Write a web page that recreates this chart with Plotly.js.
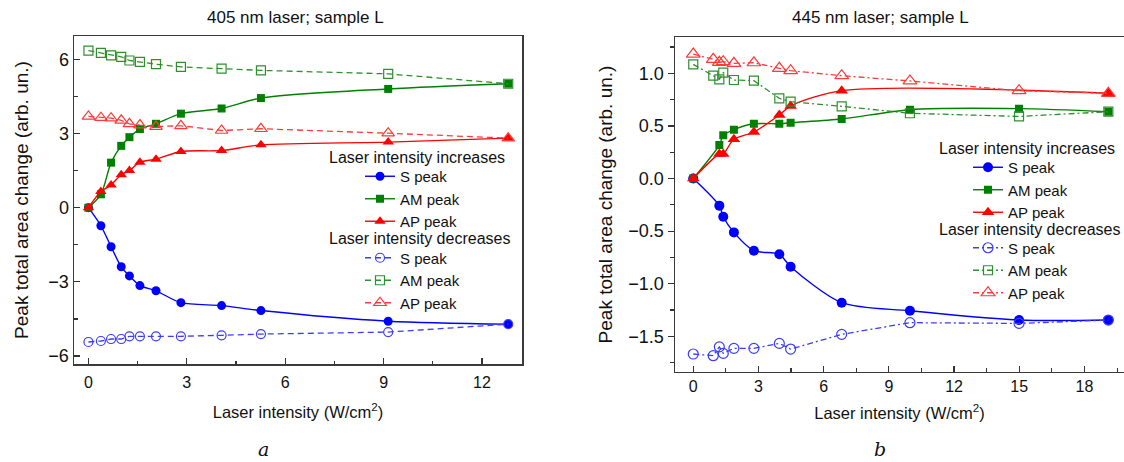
<!DOCTYPE html>
<html><head><meta charset="utf-8">
<script src="https://cdn.plot.ly/plotly-3.0.1.min.js"></script>
<style>html,body{margin:0;padding:0;background:#fff}#chart{width:1124px;height:462px}</style>
</head><body><div id="chart"></div>
<script>
// ---- Panel a: 405 nm laser ----
const xA = [0, 0.38, 0.69, 1.0, 1.25, 1.57, 2.06, 2.82, 4.06, 5.26, 9.14, 12.8];
const sA_inc = [0, -0.73, -1.58, -2.39, -2.76, -3.15, -3.36, -3.84, -3.96, -4.16, -4.59, -4.71];
const amA_inc = [0, 0.54, 1.82, 2.5, 2.85, 3.18, 3.39, 3.8, 4.01, 4.43, 4.8, 5.01];
const apA_inc = [0, 0.65, 0.92, 1.33, 1.5, 1.84, 1.96, 2.27, 2.31, 2.54, 2.65, 2.81];
const sA_dec = [-5.43, -5.39, -5.31, -5.31, -5.2, -5.2, -5.2, -5.2, -5.16, -5.11, -5.03, -4.71];
const amA_dec = [6.35, 6.26, 6.16, 6.1, 5.95, 5.89, 5.8, 5.69, 5.62, 5.55, 5.41, 5.01];
const apA_dec = [3.69, 3.64, 3.62, 3.53, 3.39, 3.34, 3.28, 3.31, 3.12, 3.19, 3.01, 2.81];

// ---- Panel b: 445 nm laser ----
const xB_inc = [0, 1.2, 1.38, 1.87, 2.79, 3.96, 4.48, 6.83, 9.97, 14.99, 19.1];
const sB_inc = [0, -0.258, -0.363, -0.512, -0.686, -0.72, -0.838, -1.18, -1.257, -1.345, -1.345];
const amB_inc = [0, 0.318, 0.41, 0.464, 0.52, 0.52, 0.53, 0.566, 0.654, 0.664, 0.635];
const xB_apinc = [0, 1.2, 1.38, 1.87, 2.79, 3.96, 4.48, 6.83, 19.1];
const apB_inc = [0, 0.233, 0.233, 0.373, 0.442, 0.604, 0.689, 0.835, 0.81];
const xB_dec = [0, 0.92, 1.2, 1.38, 1.87, 2.79, 3.96, 4.48, 6.83, 9.97, 14.99, 19.1];
const sB_dec = [-1.668, -1.684, -1.6, -1.662, -1.614, -1.614, -1.567, -1.621, -1.481, -1.37, -1.377, -1.345];
const amB_dec = [1.085, 0.977, 0.943, 1.006, 0.936, 0.93, 0.762, 0.73, 0.686, 0.62, 0.59, 0.635];
const apB_dec = [1.183, 1.133, 1.104, 1.11, 1.095, 1.10, 1.047, 1.025, 0.977, 0.927, 0.835, 0.81];

const names = ["S peak", "AM peak", "AP peak"];
const titles = ["405 nm laser; sample L", "445 nm laser; sample L"];
const headers = ["Laser intensity increases", "Laser intensity decreases"];
const xTitle = "Laser intensity (W/cm<sup>2</sup>)";
const yTitle = "Peak total area change (arb. un.)";

const BLUE = "#0000ff", GREEN = "#008000", RED = "#ff0000";
const BLUE_L = "#3c3cff", GREEN_L = "#2f8f2f", RED_L = "#ff3a3a";
const SANS = "Liberation Sans, Arial, sans-serif";
const W = 1124, H = 462;
const fx = v => v / W, fy = v => 1 - v / H;

function inc(x, y, name, color, sym, size, xa, ya, leg) {
  return {x, y, name, xaxis: xa, yaxis: ya, legend: leg, legendgroup: leg + "inc",
    type: "scatter", mode: "lines+markers",
    line: {color, width: 1.4, shape: "spline", smoothing: 0.8},
    marker: {color, symbol: sym, size, line: {width: 0}}};
}
function dec(x, y, name, color, sym, size, xa, ya, leg, dash) {
  return {x, y, name, xaxis: xa, yaxis: ya, legend: leg, legendgroup: leg + "dec",
    type: "scatter", mode: "lines+markers",
    line: {color, width: 1.3, dash},
    marker: {color, symbol: sym, size, line: {width: 1.2, color}}};
}
const dashA = "6px,4px", dashB = "6px,3px,2px,3px";
const data = [
  inc(xA, sA_inc, names[0], BLUE, "circle", 9, "x", "y", "legend"),
  inc(xA, amA_inc, names[1], GREEN, "square", 8, "x", "y", "legend"),
  inc(xA, apA_inc, names[2], RED, "triangle-up", 10, "x", "y", "legend"),
  dec(xA, sA_dec, names[0], BLUE_L, "circle-open", 9, "x", "y", "legend", dashA),
  dec(xA, amA_dec, names[1], GREEN_L, "square-open", 9, "x", "y", "legend", dashA),
  dec(xA, apA_dec, names[2], RED_L, "triangle-up-open", 11, "x", "y", "legend", dashA),
  inc(xB_inc, sB_inc, names[0], BLUE, "circle", 10, "x2", "y2", "legend2"),
  inc(xB_inc, amB_inc, names[1], GREEN, "square", 8, "x2", "y2", "legend2"),
  inc(xB_apinc, apB_inc, names[2], RED, "triangle-up", 11, "x2", "y2", "legend2"),
  dec(xB_dec, sB_dec, names[0], BLUE_L, "circle-open", 10, "x2", "y2", "legend2", dashB),
  dec(xB_dec, amB_dec, names[1], GREEN_L, "square-open", 9, "x2", "y2", "legend2", dashB),
  dec(xB_dec, apB_dec, names[2], RED_L, "triangle-up-open", 12, "x2", "y2", "legend2", dashB)
];

function axis(domain, range, dtick, mdtick, ticks, extra) {
  return Object.assign({domain, range, dtick, tick0: 0, ticks, ticklen: 6, tickwidth: 1.2,
    tickcolor: "#333", minor: {dtick: mdtick, ticks, ticklen: 3.5, tickwidth: 1.1, tickcolor: "#333"},
    showline: true, mirror: true, linecolor: "#3a3a3a", linewidth: 1.5,
    showgrid: false, zeroline: false, fixedrange: true}, extra);
}
const anno = (text, x, y, size, xanchor, extra) => Object.assign({text, xref: "paper", yref: "paper",
  x: fx(x), y: fy(y), xanchor: xanchor || "center", yanchor: "middle", showarrow: false, font: {size}}, extra || {});
const SERIF = {family: "DejaVu Serif, Liberation Serif, serif", size: 19, style: "italic"};

const layout = {
  width: W, height: H, margin: {l: 0, r: 0, t: 0, b: 0}, paper_bgcolor: "#fff", plot_bgcolor: "#fff",
  font: {family: SANS, color: "#111"},
  xaxis: axis([fx(74), fx(522)], [-0.44, 13.22], 3, 1.5, "inside",
    {anchor: "y", ticklabelstandoff: 3, tickfont: {size: 16}, title: {text: xTitle, font: {size: 16.5}, standoff: 16}}),
  yaxis: axis([1 - 364 / H, 1 - 36 / H], [-6.32, 6.94], 3, 1.5, "inside",
    {anchor: "x", tickfont: {size: 18}, title: {text: yTitle, font: {size: 19}, standoff: 14}}),
  xaxis2: axis([fx(675), 1.0], [-0.84, 19.82], 3, 1.5, "inside",
    {anchor: "y2", tickfont: {size: 16}, title: {text: xTitle, font: {size: 16.5}, standoff: 13}}),
  yaxis2: axis([1 - 371.7 / H, 1 - 37.3 / H], [-1.836, 1.342], 0.5, 0.25, "outside",
    {anchor: "x2", mirror: false, tickformat: ".1f", tickfont: {size: 18}, title: {text: yTitle, font: {size: 19}, standoff: 10}}),
  legend: {x: fx(360), y: fy(160), xanchor: "left", yanchor: "top", bgcolor: "rgba(0,0,0,0)",
    font: {size: 15}, tracegroupgap: 14, traceorder: "grouped", itemclick: false},
  legend2: {x: fx(968), y: fy(151), xanchor: "left", yanchor: "top", bgcolor: "rgba(0,0,0,0)",
    font: {size: 15}, tracegroupgap: 13, traceorder: "grouped", itemclick: false},
  showlegend: true,
  annotations: [
    anno(titles[0], 295, 17, 17),
    anno(titles[1], 880, 17, 17),
    anno(headers[0], 327, 157, 16, "left"),
    anno(headers[1], 327, 239, 16, "left"),
    anno(headers[0], 937, 148, 16, "left"),
    anno(headers[1], 937, 229, 16, "left"),
    anno("a", 263, 449, 19, "center", {font: SERIF}),
    anno("b", 880, 449, 19, "center", {font: SERIF})
  ]
};
Plotly.newPlot("chart", data, layout, {displayModeBar: false, staticPlot: true});
</script></body></html>
